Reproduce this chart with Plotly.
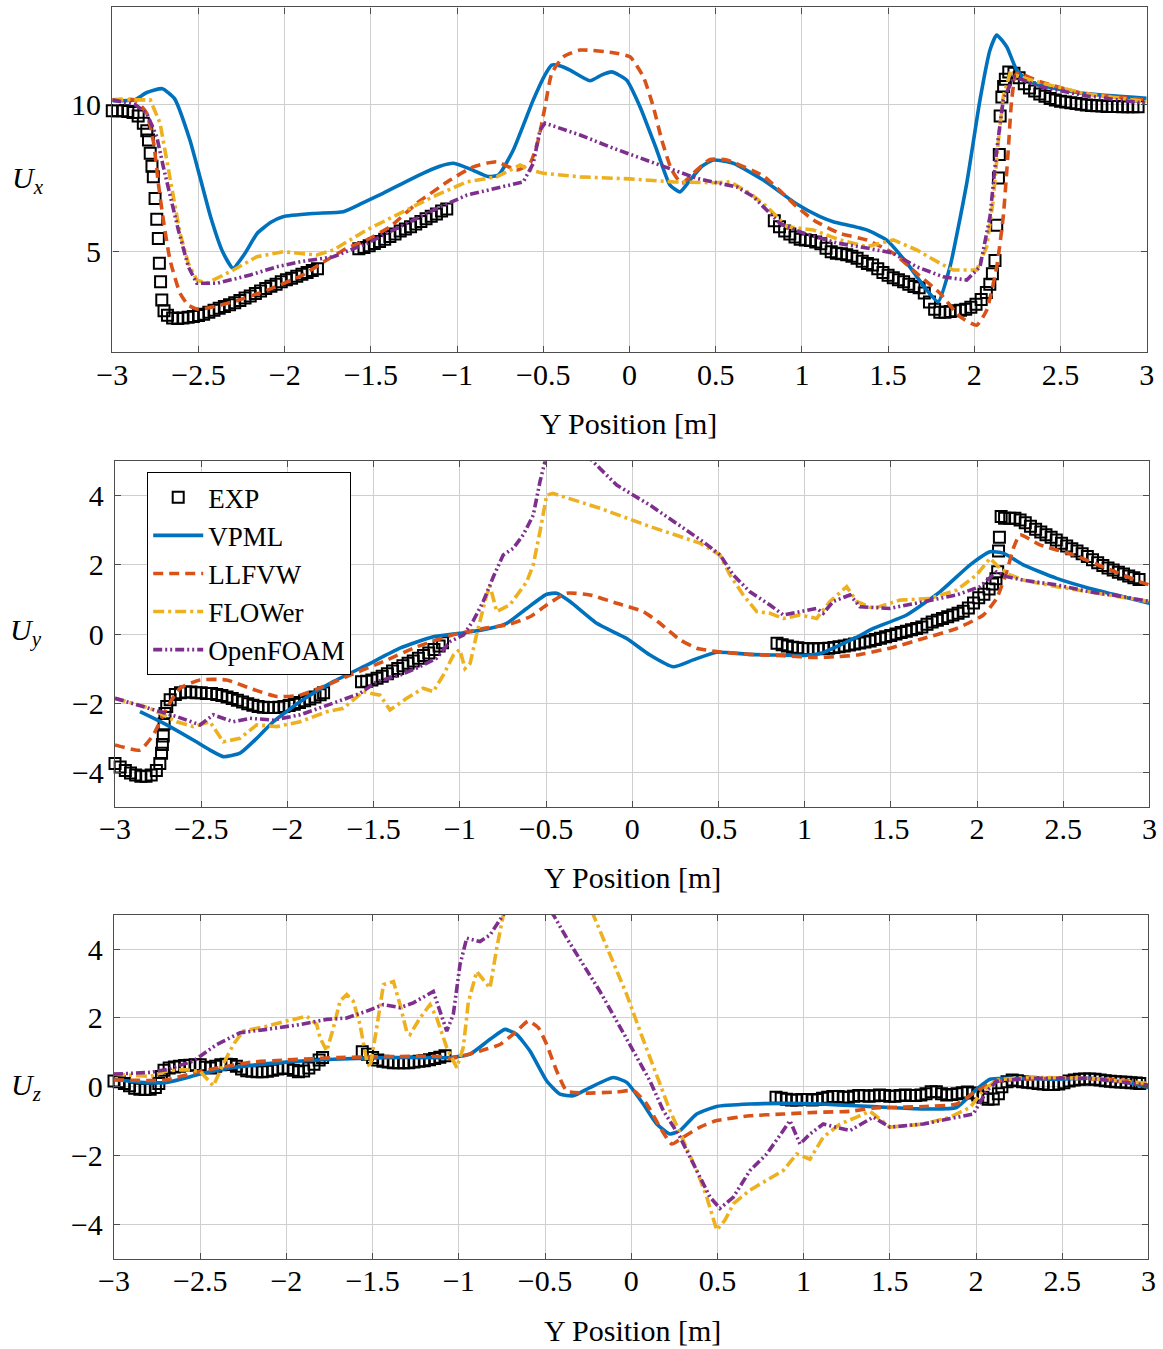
import plotly.graph_objects as go

# ---------------- data ----------------
x_ticks = [-3, -2.5, -2, -1.5, -1, -0.5, 0, 0.5, 1, 1.5, 2, 2.5, 3]
ux_ticks = [5, 10]
uyz_ticks = [-4, -2, 0, 2, 4]

# ---- U_x ----
exp_ux = [(-3.0, 9.78), (-2.97, 9.78), (-2.94, 9.78), (-2.91, 9.76), (-2.88, 9.72), (-2.85, 9.6), (-2.82, 9.36), (-2.80, 9.1),
          (-2.79, 8.79), (-2.78, 8.34), (-2.77, 7.9), (-2.762, 7.54), (-2.752, 6.81), (-2.742, 6.1), (-2.733, 5.45), (-2.727, 4.61),
          (-2.72, 3.98), (-2.713, 3.36), (-2.70, 3.0), (-2.68, 2.85), (-2.65, 2.75), (-2.62, 2.74), (-2.59, 2.75), (-2.56, 2.78),
          (-2.53, 2.8), (-2.50, 2.84), (-2.47, 2.88), (-2.44, 2.95), (-2.41, 3.02), (-2.38, 3.08), (-2.35, 3.14), (-2.32, 3.2),
          (-2.29, 3.27), (-2.26, 3.35), (-2.23, 3.43), (-2.20, 3.5), (-2.17, 3.58), (-2.14, 3.67), (-2.11, 3.75), (-2.08, 3.83),
          (-2.05, 3.9), (-2.02, 3.98), (-1.99, 4.05), (-1.96, 4.1), (-1.93, 4.17), (-1.90, 4.24), (-1.87, 4.3), (-1.84, 4.36),
          (-1.81, 4.42),
          (-1.57, 5.1), (-1.54, 5.14), (-1.51, 5.2), (-1.48, 5.28), (-1.45, 5.35), (-1.42, 5.42), (-1.39, 5.52), (-1.36, 5.6),
          (-1.33, 5.7), (-1.30, 5.77), (-1.27, 5.85), (-1.24, 5.94), (-1.21, 6.03), (-1.18, 6.12), (-1.15, 6.2), (-1.12, 6.28),
          (-1.09, 6.38), (-1.06, 6.45),
          (0.84, 6.05), (0.87, 5.85), (0.90, 5.7), (0.93, 5.6), (0.96, 5.5), (0.99, 5.42), (1.02, 5.4), (1.05, 5.38), (1.08, 5.33),
          (1.11, 5.27), (1.14, 5.12), (1.17, 5.0), (1.20, 4.95), (1.23, 4.93), (1.26, 4.9), (1.29, 4.85), (1.32, 4.78), (1.35, 4.68),
          (1.38, 4.6), (1.41, 4.55), (1.44, 4.42), (1.47, 4.3), (1.50, 4.2), (1.53, 4.12), (1.56, 4.05), (1.59, 3.98), (1.62, 3.9),
          (1.65, 3.82), (1.68, 3.78), (1.71, 3.6), (1.74, 3.3), (1.77, 3.05), (1.80, 2.95), (1.83, 2.95), (1.86, 2.97), (1.89, 3.0),
          (1.92, 3.02), (1.95, 3.05), (1.98, 3.12), (2.01, 3.22), (2.04, 3.38), (2.07, 3.62), (2.09, 3.9), (2.105, 4.25), (2.12, 4.7),
          (2.13, 5.9), (2.14, 7.5), (2.145, 8.3), (2.15, 9.6), (2.16, 10.25), (2.17, 10.6), (2.18, 10.85), (2.20, 11.1), (2.23, 11.05),
          (2.26, 10.9), (2.29, 10.7), (2.32, 10.55), (2.35, 10.45), (2.38, 10.35), (2.41, 10.27), (2.44, 10.2), (2.47, 10.15),
          (2.50, 10.1), (2.53, 10.08), (2.56, 10.05), (2.59, 10.03), (2.62, 10.0), (2.65, 9.98), (2.68, 9.96), (2.71, 9.95),
          (2.74, 9.94), (2.77, 9.93), (2.80, 9.93), (2.83, 9.93), (2.86, 9.92), (2.89, 9.92), (2.92, 9.92), (2.95, 9.92)]

vpml_ux = [(-3.0, 10.12), (-2.87, 10.15), (-2.80, 10.4), (-2.71, 10.53), (-2.64, 10.2), (-2.55, 8.79), (-2.49, 7.5), (-2.43, 6.19),
           (-2.36, 5.0), (-2.30, 4.44), (-2.23, 4.95), (-2.16, 5.62), (-2.08, 6.0), (-2.01, 6.19), (-1.83, 6.30), (-1.66, 6.36),
           (-1.55, 6.65), (-1.43, 6.98), (-1.22, 7.60), (-1.10, 7.9), (-1.02, 8.0), (-0.91, 7.77), (-0.82, 7.55), (-0.76, 7.60),
           (-0.674, 8.45), (-0.558, 10.15), (-0.49, 11.0), (-0.451, 11.33), (-0.40, 11.3), (-0.345, 11.16), (-0.229, 10.8),
           (-0.16, 11.0), (-0.103, 11.1), (-0.016, 10.82), (0.061, 9.92), (0.158, 8.45), (0.235, 7.26), (0.293, 7.03), (0.351, 7.43),
           (0.42, 7.9), (0.486, 8.11), (0.602, 8.0), (0.776, 7.43), (0.97, 6.62), (1.105, 6.19), (1.182, 6.02), (1.376, 5.74),
           (1.49, 5.40), (1.61, 4.61), (1.724, 3.70), (1.79, 3.30), (1.859, 4.49), (1.956, 7.32), (2.033, 10.15), (2.091, 11.84),
           (2.13, 12.35), (2.188, 11.95), (2.246, 11.16), (2.30, 10.85), (2.381, 10.65), (2.632, 10.37), (3.0, 10.20)]

llfvw_ux = [(-3.0, 10.15), (-2.87, 10.15), (-2.80, 9.69), (-2.76, 8.68), (-2.733, 7.32), (-2.704, 6.08), (-2.665, 4.72), (-2.607, 3.59),
            (-2.559, 3.19), (-2.50, 3.05), (-2.30, 3.3), (-2.10, 3.7), (-1.90, 4.2), (-1.756, 4.72), (-1.64, 5.12), (-1.524, 5.40),
            (-1.389, 5.85), (-1.234, 6.64), (-1.041, 7.43), (-0.906, 7.88), (-0.77, 8.05), (-0.654, 7.77), (-0.577, 8.0), (-0.529, 8.79),
            (-0.49, 9.92), (-0.451, 11.05), (-0.384, 11.61), (-0.287, 11.84), (-0.094, 11.75), (0.003, 11.61), (0.08, 10.94),
            (0.138, 9.92), (0.187, 8.79), (0.245, 7.77), (0.303, 7.32), (0.37, 7.66), (0.467, 8.13), (0.564, 8.11), (0.776, 7.57),
            (0.97, 6.53), (1.066, 6.08), (1.221, 5.62), (1.376, 5.40), (1.53, 4.95), (1.666, 4.27), (1.801, 3.59), (1.917, 2.80),
            (2.014, 2.51), (2.072, 3.02), (2.13, 4.49), (2.168, 6.19), (2.197, 8.45), (2.217, 10.15), (2.246, 11.05), (2.381, 10.77),
            (2.632, 10.37), (3.0, 10.15)]

flower_ux = [(-3.0, 10.15), (-2.78, 10.15), (-2.723, 9.36), (-2.685, 8.11), (-2.646, 6.87), (-2.607, 5.62), (-2.559, 4.61), (-2.51, 4.04),
             (-2.452, 3.93), (-2.298, 4.38), (-2.162, 4.83), (-2.008, 5.0), (-1.814, 4.89), (-1.718, 5.06), (-1.524, 5.74), (-1.331, 6.30),
             (-1.138, 6.87), (-0.944, 7.37), (-0.77, 7.54), (-0.635, 7.94), (-0.577, 7.77), (-0.5, 7.66), (-0.287, 7.54), (0.003, 7.47),
             (0.254, 7.37), (0.486, 7.34), (0.583, 7.37), (0.699, 6.98), (0.796, 6.53), (0.912, 5.85), (1.066, 5.74), (1.221, 5.40),
             (1.376, 5.17), (1.53, 5.40), (1.666, 5.06), (1.801, 4.61), (1.878, 4.38), (2.014, 4.38), (2.072, 5.17), (2.11, 6.75),
             (2.14, 8.79), (2.168, 10.26), (2.207, 11.05), (2.34, 10.8), (2.632, 10.37), (3.0, 10.09)]

openfoam_ux = [(-3.0, 10.15), (-2.87, 10.0), (-2.80, 9.69), (-2.742, 8.9), (-2.704, 7.88), (-2.665, 6.87), (-2.617, 5.74), (-2.559, 4.49),
               (-2.51, 3.93), (-2.394, 3.93), (-2.201, 4.21), (-2.046, 4.49), (-1.911, 4.66), (-1.718, 4.83), (-1.524, 5.28),
               (-1.331, 5.85), (-1.138, 6.41), (-0.944, 6.92), (-0.77, 7.15), (-0.616, 7.37), (-0.558, 8.0), (-0.519, 9.13),
               (-0.49, 9.36), (-0.287, 8.96), (-0.094, 8.51), (0.1, 8.11), (0.254, 7.77), (0.39, 7.49), (0.505, 7.34), (0.622, 7.20),
               (0.718, 6.87), (0.796, 6.41), (0.873, 5.96), (1.0, 5.65), (1.2, 5.3), (1.4, 5.1), (1.53, 4.95), (1.666, 4.49),
               (1.82, 4.15), (1.956, 4.04), (2.033, 4.49), (2.091, 6.19), (2.13, 8.45), (2.168, 10.15), (2.23, 10.94), (2.381, 10.6),
               (2.632, 10.3), (3.0, 10.03)]

# ---- U_y ----
exp_uy = [(-3.0, -3.75), (-2.97, -3.85), (-2.94, -3.95), (-2.91, -4.02), (-2.88, -4.08), (-2.85, -4.12), (-2.82, -4.12), (-2.79, -4.08),
          (-2.76, -3.95), (-2.74, -3.75), (-2.73, -3.45), (-2.725, -3.2), (-2.72, -2.95), (-2.715, -2.6), (-2.71, -2.3), (-2.70, -2.1),
          (-2.68, -1.9), (-2.65, -1.75), (-2.62, -1.7), (-2.59, -1.68), (-2.56, -1.68), (-2.53, -1.7), (-2.50, -1.7), (-2.47, -1.72),
          (-2.44, -1.72), (-2.41, -1.75), (-2.38, -1.78), (-2.35, -1.82), (-2.32, -1.87), (-2.29, -1.92), (-2.26, -1.97), (-2.23, -2.02),
          (-2.20, -2.06), (-2.17, -2.1), (-2.14, -2.12), (-2.11, -2.13), (-2.08, -2.13), (-2.05, -2.12), (-2.02, -2.1), (-1.99, -2.07),
          (-1.96, -2.03), (-1.93, -1.98), (-1.90, -1.93), (-1.87, -1.88), (-1.84, -1.82), (-1.81, -1.76), (-1.79, -1.7),
          (-1.57, -1.38), (-1.54, -1.37), (-1.51, -1.33), (-1.48, -1.28), (-1.45, -1.22), (-1.42, -1.15), (-1.39, -1.07), (-1.36, -1.0),
          (-1.33, -0.92), (-1.30, -0.85), (-1.27, -0.78), (-1.24, -0.7), (-1.21, -0.62), (-1.18, -0.55), (-1.15, -0.45), (-1.12, -0.35),
          (-1.10, -0.25),
          (0.84, -0.27), (0.87, -0.31), (0.90, -0.35), (0.93, -0.38), (0.96, -0.4), (0.99, -0.42), (1.02, -0.43), (1.05, -0.43),
          (1.08, -0.43), (1.11, -0.42), (1.14, -0.41), (1.17, -0.39), (1.20, -0.37), (1.23, -0.35), (1.26, -0.32), (1.29, -0.29),
          (1.32, -0.26), (1.35, -0.23), (1.38, -0.2), (1.41, -0.16), (1.44, -0.12), (1.47, -0.08), (1.50, -0.04), (1.53, 0.0),
          (1.56, 0.04), (1.59, 0.08), (1.62, 0.12), (1.65, 0.16), (1.68, 0.2), (1.71, 0.28), (1.74, 0.35), (1.77, 0.4), (1.80, 0.45),
          (1.83, 0.5), (1.86, 0.55), (1.89, 0.6), (1.92, 0.66), (1.95, 0.75), (1.98, 0.9), (2.01, 1.05), (2.04, 1.15), (2.07, 1.3),
          (2.09, 1.45), (2.11, 1.6), (2.12, 1.8), (2.125, 2.4), (2.13, 2.8), (2.14, 3.4), (2.16, 3.35), (2.19, 3.35), (2.22, 3.35),
          (2.25, 3.3), (2.28, 3.22), (2.31, 3.12), (2.34, 3.03), (2.37, 2.95), (2.40, 2.87), (2.43, 2.8), (2.46, 2.72), (2.49, 2.63),
          (2.52, 2.55), (2.55, 2.47), (2.58, 2.4), (2.61, 2.32), (2.64, 2.24), (2.67, 2.15), (2.70, 2.06), (2.73, 1.98), (2.76, 1.91),
          (2.79, 1.85), (2.82, 1.79), (2.85, 1.74), (2.88, 1.68), (2.91, 1.63), (2.94, 1.58)]

vpml_uy = [(-2.855, -2.25), (-2.70, -2.63), (-2.546, -3.07), (-2.449, -3.36), (-2.372, -3.55), (-2.275, -3.45), (-2.178, -3.02),
           (-2.082, -2.54), (-1.927, -1.96), (-1.734, -1.38), (-1.54, -0.90), (-1.347, -0.41), (-1.154, -0.08), (-1.0, 0.02),
           (-0.864, 0.12), (-0.728, 0.31), (-0.612, 0.74), (-0.496, 1.15), (-0.438, 1.18), (-0.361, 0.94), (-0.206, 0.31),
           (-0.032, -0.13), (0.103, -0.61), (0.238, -0.95), (0.354, -0.75), (0.49, -0.53), (0.683, -0.59), (0.877, -0.61),
           (1.0, -0.62), (1.1, -0.55), (1.205, -0.32), (1.3, -0.1), (1.398, 0.16), (1.592, 0.55), (1.785, 1.22), (1.96, 2.0),
           (2.075, 2.38), (2.153, 2.34), (2.269, 2.0), (2.462, 1.61), (2.655, 1.32), (2.849, 1.08), (3.0, 0.89)]

llfvw_uy = [(-3.0, -3.21), (-2.855, -3.36), (-2.778, -2.92), (-2.70, -2.15), (-2.623, -1.57), (-2.507, -1.33), (-2.353, -1.33),
            (-2.217, -1.57), (-2.062, -1.81), (-1.927, -1.77), (-1.772, -1.48), (-1.637, -1.19), (-1.444, -0.80), (-1.25, -0.37),
            (-1.057, -0.05), (-0.864, 0.16), (-0.728, 0.26), (-0.593, 0.50), (-0.496, 0.84), (-0.38, 1.18), (-0.245, 1.13),
            (-0.09, 0.89), (0.064, 0.65), (0.161, 0.31), (0.277, -0.17), (0.374, -0.41), (0.49, -0.51), (0.683, -0.59),
            (0.877, -0.63), (1.07, -0.68), (1.2, -0.65), (1.302, -0.61), (1.495, -0.41), (1.689, -0.13), (1.882, 0.16),
            (2.037, 0.55), (2.114, 1.03), (2.172, 1.80), (2.211, 2.48), (2.249, 2.87), (2.365, 2.58), (2.559, 2.29),
            (2.752, 1.90), (2.946, 1.51), (3.0, 1.42)]

flower_uy = [(-3.0, -1.86), (-2.797, -2.15), (-2.642, -2.54), (-2.546, -2.68), (-2.449, -2.54), (-2.372, -3.12), (-2.275, -3.02),
             (-2.178, -2.63), (-2.062, -2.68), (-1.927, -2.54), (-1.772, -2.25), (-1.676, -2.15), (-1.56, -1.67), (-1.463, -1.77),
             (-1.405, -2.20), (-1.308, -1.86), (-1.212, -1.57), (-1.154, -1.67), (-1.096, -1.19), (-1.037, -0.61), (-1.0, -0.45),
             (-0.97, -1.0), (-0.94, -0.85), (-0.902, 0.0), (-0.844, 1.13), (-0.825, 1.4), (-0.786, 0.65), (-0.71, 0.84),
             (-0.612, 1.51), (-0.574, 2.0), (-0.535, 2.96), (-0.496, 4.02), (-0.46, 4.07), (-0.187, 3.64), (0.103, 3.11),
             (0.393, 2.63), (0.509, 2.29), (0.567, 1.71), (0.644, 1.13), (0.722, 0.65), (0.799, 0.60), (0.877, 0.45), (0.973, 0.55),
             (1.07, 0.45), (1.147, 0.94), (1.244, 1.37), (1.302, 0.94), (1.398, 0.74), (1.553, 0.98), (1.727, 1.03), (1.882, 1.27),
             (1.998, 1.71), (2.075, 2.19), (2.133, 1.9), (2.191, 1.71), (2.269, 1.56), (2.462, 1.37), (2.655, 1.22), (2.849, 1.06),
             (3.0, 0.94)]

openfoam_uy = [(-3.0, -1.86), (-2.797, -2.15), (-2.642, -2.39), (-2.507, -2.63), (-2.43, -2.34), (-2.314, -2.54), (-2.217, -2.44),
               (-2.082, -2.49), (-1.927, -2.34), (-1.734, -2.0), (-1.579, -1.72), (-1.482, -1.38), (-1.347, -1.19), (-1.25, -0.99),
               (-1.134, -0.70), (-1.057, -0.22), (-0.979, -0.03), (-0.92, 0.40), (-0.864, 0.94), (-0.806, 1.65), (-0.748, 2.29),
               (-0.69, 2.48), (-0.632, 2.87), (-0.574, 3.44), (-0.535, 4.41), (-0.506, 4.99), (-0.45, 5.8), (-0.35, 5.6),
               (-0.23, 5.0), (-0.09, 4.31), (0.103, 3.73), (0.296, 3.06), (0.412, 2.67), (0.509, 2.29), (0.586, 1.71), (0.683, 1.22),
               (0.799, 0.84), (0.877, 0.55), (0.993, 0.65), (1.07, 0.74), (1.108, 0.6), (1.166, 0.94), (1.263, 1.13), (1.321, 0.79),
               (1.495, 0.74), (1.689, 0.94), (1.882, 1.13), (2.017, 1.37), (2.075, 1.61), (2.114, 1.80), (2.172, 1.66), (2.269, 1.56),
               (2.462, 1.42), (2.655, 1.22), (2.849, 1.08), (3.0, 0.94)]

# ---- U_z ----
exp_uz = [(-3.0, 0.17), (-2.97, 0.15), (-2.94, 0.1), (-2.91, 0.03), (-2.88, -0.04), (-2.85, -0.07), (-2.82, -0.08), (-2.79, -0.07),
          (-2.76, -0.02), (-2.74, 0.1), (-2.725, 0.3), (-2.71, 0.48), (-2.68, 0.55), (-2.65, 0.58), (-2.62, 0.6), (-2.59, 0.62),
          (-2.56, 0.63), (-2.53, 0.64), (-2.50, 0.64), (-2.47, 0.57), (-2.44, 0.55), (-2.41, 0.6), (-2.38, 0.64), (-2.35, 0.66),
          (-2.32, 0.65), (-2.29, 0.6), (-2.26, 0.52), (-2.23, 0.47), (-2.20, 0.45), (-2.17, 0.44), (-2.14, 0.44), (-2.11, 0.45),
          (-2.08, 0.48), (-2.05, 0.52), (-2.02, 0.55), (-1.99, 0.53), (-1.96, 0.48), (-1.93, 0.44), (-1.90, 0.46), (-1.87, 0.55),
          (-1.84, 0.66), (-1.81, 0.78), (-1.79, 0.85),
          (-1.56, 1.02), (-1.53, 0.95), (-1.50, 0.85), (-1.47, 0.78), (-1.44, 0.74), (-1.41, 0.72), (-1.38, 0.7), (-1.35, 0.7),
          (-1.32, 0.7), (-1.29, 0.7), (-1.26, 0.72), (-1.23, 0.74), (-1.20, 0.76), (-1.17, 0.79), (-1.14, 0.82), (-1.11, 0.86),
          (-1.08, 0.9),
          (0.84, -0.3), (0.87, -0.33), (0.90, -0.36), (0.93, -0.38), (0.96, -0.38), (0.99, -0.37), (1.02, -0.37), (1.05, -0.38),
          (1.08, -0.37), (1.11, -0.33), (1.14, -0.3), (1.17, -0.28), (1.20, -0.28), (1.23, -0.3), (1.26, -0.3), (1.29, -0.27),
          (1.32, -0.25), (1.35, -0.26), (1.38, -0.27), (1.41, -0.26), (1.44, -0.24), (1.47, -0.25), (1.50, -0.27), (1.53, -0.27),
          (1.56, -0.25), (1.59, -0.24), (1.62, -0.25), (1.65, -0.25), (1.68, -0.24), (1.71, -0.2), (1.74, -0.14), (1.77, -0.14),
          (1.80, -0.2), (1.83, -0.24), (1.86, -0.22), (1.89, -0.2), (1.92, -0.17), (1.95, -0.15), (1.98, -0.18), (2.01, -0.24),
          (2.04, -0.3), (2.07, -0.36), (2.10, -0.35), (2.13, -0.2), (2.15, 0.0), (2.18, 0.15), (2.21, 0.2), (2.24, 0.18),
          (2.27, 0.15), (2.30, 0.13), (2.33, 0.12), (2.36, 0.1), (2.39, 0.08), (2.42, 0.07), (2.45, 0.07), (2.48, 0.08),
          (2.51, 0.12), (2.54, 0.17), (2.57, 0.2), (2.60, 0.22), (2.63, 0.23), (2.66, 0.23), (2.69, 0.22), (2.72, 0.2),
          (2.75, 0.18), (2.78, 0.16), (2.81, 0.15), (2.84, 0.14), (2.87, 0.13), (2.90, 0.12), (2.93, 0.11), (2.95, 0.1)]

vpml_uz = [(-3.0, 0.22), (-2.85, 0.13), (-2.694, 0.13), (-2.5, 0.37), (-2.308, 0.56), (-2.018, 0.71), (-1.728, 0.80), (-1.438, 0.85),
           (-1.148, 0.85), (-1.05, 0.85), (-0.935, 0.95), (-0.819, 1.38), (-0.732, 1.67), (-0.664, 1.52), (-0.587, 1.04),
           (-0.49, 0.17), (-0.413, -0.21), (-0.336, -0.26), (-0.239, -0.02), (-0.104, 0.27), (-0.026, 0.13), (0.07, -0.50),
           (0.148, -1.08), (0.225, -1.37), (0.283, -1.27), (0.38, -0.79), (0.496, -0.57), (0.689, -0.50), (0.882, -0.48),
           (1.1, -0.5), (1.3, -0.55), (1.501, -0.60), (1.694, -0.64), (1.887, -0.60), (2.004, -0.07), (2.081, 0.22),
           (2.178, 0.25), (2.468, 0.22), (2.66, 0.25), (2.854, 0.16), (3.0, -0.02)]

llfvw_uz = [(-3.0, 0.2), (-2.7, 0.2), (-2.5, 0.45), (-2.2, 0.72), (-2.0, 0.78), (-1.7, 0.85), (-1.4, 0.88), (-1.1, 0.88),
            (-1.051, 0.82), (-0.877, 1.04), (-0.761, 1.23), (-0.664, 1.62), (-0.597, 1.91), (-0.539, 1.72), (-0.49, 1.23),
            (-0.432, 0.46), (-0.374, -0.12), (-0.278, -0.18), (-0.084, -0.15), (0.012, -0.11), (0.09, -0.5), (0.167, -1.17),
            (0.235, -1.66), (0.302, -1.46), (0.399, -1.17), (0.496, -0.98), (0.689, -0.84), (0.882, -0.79), (1.076, -0.74),
            (1.269, -0.71), (1.4, -0.62), (1.7, -0.57), (1.887, -0.5), (2.004, -0.12), (2.12, 0.16), (2.46, 0.25), (2.85, 0.2),
            (3.0, 0.05)]

flower_uz = [(-3.0, 0.37), (-2.888, 0.32), (-2.79, 0.3), (-2.694, 0.46), (-2.6, 0.5), (-2.5, 0.45), (-2.424, 0.03), (-2.366, 0.66),
             (-2.308, 1.23), (-2.25, 1.62), (-2.114, 1.76), (-2.0, 1.91), (-1.882, 2.05), (-1.824, 1.81), (-1.805, 1.43),
             (-1.766, 1.04), (-1.728, 1.7), (-1.689, 2.49), (-1.65, 2.68), (-1.612, 2.49), (-1.573, 1.81), (-1.534, 0.75),
             (-1.515, 0.56), (-1.476, 1.72), (-1.437, 2.97), (-1.379, 3.06), (-1.341, 2.39), (-1.302, 1.6), (-1.283, 1.52),
             (-1.225, 2.0), (-1.167, 2.39), (-1.128, 2.0), (-1.07, 1.14), (-1.012, 0.56), (-0.974, 1.14), (-0.945, 2.45),
             (-0.896, 3.35), (-0.819, 2.87), (-0.78, 4.03), (-0.742, 4.99), (-0.6, 6.0), (-0.4, 6.2), (-0.22, 5.0), (-0.123, 3.84),
             (-0.026, 2.68), (0.051, 1.62), (0.148, 0.37), (0.225, -0.69), (0.302, -1.56), (0.38, -2.43), (0.438, -3.2),
             (0.496, -4.16), (0.544, -3.87), (0.593, -3.39), (0.689, -3.0), (0.786, -2.72), (0.882, -2.43), (0.96, -1.95),
             (1.037, -2.1), (1.114, -1.46), (1.211, -1.08), (1.308, -0.88), (1.385, -0.71), (1.501, -1.17), (1.694, -1.08),
             (1.849, -0.88), (1.965, -0.6), (2.04, -0.12), (2.12, 0.2), (2.3, 0.28), (2.65, 0.25), (3.0, 0.1)]

openfoam_uz = [(-3.0, 0.37), (-2.791, 0.42), (-2.694, 0.5), (-2.54, 0.75), (-2.404, 1.23), (-2.269, 1.57), (-2.114, 1.67),
               (-1.921, 1.81), (-1.766, 1.96), (-1.65, 2.0), (-1.534, 2.2), (-1.437, 2.39), (-1.341, 2.3), (-1.264, 2.44),
               (-1.148, 2.77), (-1.109, 2.2), (-1.07, 1.62), (-1.032, 2.1), (-0.993, 3.55), (-0.954, 4.32), (-0.877, 4.22),
               (-0.819, 4.41), (-0.742, 5.0), (-0.6, 5.8), (-0.452, 5.0), (-0.374, 4.32), (-0.278, 3.55), (-0.181, 2.77),
               (-0.084, 1.91), (0.012, 1.04), (0.109, 0.17), (0.186, -0.69), (0.283, -1.46), (0.38, -2.43), (0.457, -3.2),
               (0.515, -3.53), (0.593, -3.2), (0.689, -2.43), (0.786, -1.95), (0.882, -1.27), (0.921, -0.98), (0.979, -1.66),
               (1.037, -1.37), (1.114, -1.08), (1.269, -1.27), (1.404, -0.88), (1.501, -1.17), (1.694, -1.08), (1.887, -0.88),
               (1.984, -0.79), (2.062, -0.12), (2.12, 0.16), (2.3, 0.25), (2.65, 0.25), (3.0, 0.05)]

series_names = ["EXP", "VPML", "LLFVW", "FLOWer", "OpenFOAM"]
panels = [
    dict(exp=exp_ux, vpml=vpml_ux, llfvw=llfvw_ux, flower=flower_ux, openfoam=openfoam_ux),
    dict(exp=exp_uy, vpml=vpml_uy, llfvw=llfvw_uy, flower=flower_uy, openfoam=openfoam_uy),
    dict(exp=exp_uz, vpml=vpml_uz, llfvw=llfvw_uz, flower=flower_uz, openfoam=openfoam_uz),
]
y_labels = ["<i>U</i><sub><i>x</i></sub>", "<i>U</i><sub><i>y</i></sub>", "<i>U</i><sub><i>z</i></sub>"]

# ---------------- styling ----------------
W, H = 1163, 1349
FONT = "Liberation Serif, Times New Roman, serif"
FS = 30
LEG_FS = 27
C_BLUE, C_RED, C_YEL, C_PUR = "#0072BD", "#D95319", "#EDB120", "#7E2F8E"
LW = 3.6
styles = {
    "vpml": dict(color=C_BLUE, width=LW, dash="solid", shape="spline", smoothing=0.5),
    "llfvw": dict(color=C_RED, width=LW, dash="10px,6px", shape="spline", smoothing=0.5),
    "flower": dict(color=C_YEL, width=LW, dash="11px,4px,3px,4px"),
    "openfoam": dict(color=C_PUR, width=LW, dash="9px,3px,2px,3px,2px,3px"),
}
# panel boxes in pixels: (left, right, top, bottom)
boxes = [(112.3, 1146.7, 7.3, 352.3), (115.0, 1149.4, 461.25, 806.75), (114.0, 1148.4, 914.7, 1259.0)]
yranges = [[1.59, 13.29], [-5, 5], [-5, 5]]
ytickvals = [ux_ticks, uyz_ticks, uyz_ticks]
xlabel_pos = [(629, 423), (632, 877), (632, 1330)]
ylabel_pos = [(28, 180), (26, 632), (26, 1087)]

fig = go.Figure()
layout = dict(width=W, height=H, autosize=False, margin=dict(l=0, r=0, t=0, b=0, pad=0), paper_bgcolor="white",
              plot_bgcolor="white", font=dict(family=FONT, size=FS, color="black"), showlegend=True, annotations=[])

for i, p in enumerate(panels):
    sfx = "" if i == 0 else str(i + 1)
    xa, ya = "x" + sfx, "y" + sfx
    first = (i == 1)
    ex = [pt[0] for pt in p["exp"]]
    ey = [pt[1] for pt in p["exp"]]
    fig.add_trace(go.Scatter(x=ex, y=ey, mode="markers", name="EXP", xaxis=xa, yaxis=ya, showlegend=first,
                             cliponaxis=False, legendrank=1,
                             marker=dict(symbol="square-open", size=11, color="black", line=dict(width=2, color="black"))))
    for rank, key in enumerate(["vpml", "llfvw", "flower", "openfoam"], start=2):
        pts = p[key]
        fig.add_trace(go.Scatter(x=[q[0] for q in pts], y=[q[1] for q in pts], mode="lines", name=series_names[rank - 1],
                                 xaxis=xa, yaxis=ya, showlegend=first, legendrank=rank, line=styles[key]))
    l, r, t, b = boxes[i]
    common = dict(showline=True, linecolor="#4d4d4d", linewidth=1.4, mirror="ticks", ticks="inside", ticklen=6,
                  tickcolor="#4d4d4d", tickwidth=1.2, showgrid=True, gridcolor="#cfcfcf", gridwidth=1.4, zeroline=False,
                  automargin=False, tickfont=dict(family=FONT, size=FS, color="black"))
    layout["xaxis" + sfx] = dict(domain=[l / W, r / W], anchor=ya, range=[-3, 3], tickmode="array", tickvals=x_ticks,
                                 ticklabelstandoff=-5, **common)
    layout["yaxis" + sfx] = dict(domain=[1 - b / H, 1 - t / H], anchor=xa, range=yranges[i], tickmode="array",
                                 tickvals=ytickvals[i], ticklabelstandoff=4, **common)
    xl, yl = xlabel_pos[i]
    layout["annotations"].append(dict(text="Y Position [m]", x=xl / W, y=1 - yl / H, xref="paper", yref="paper",
                                      showarrow=False, xanchor="center", yanchor="middle",
                                      font=dict(family=FONT, size=FS, color="black")))
    xl, yl = ylabel_pos[i]
    layout["annotations"].append(dict(text=y_labels[i], x=xl / W, y=1 - yl / H, xref="paper", yref="paper",
                                      showarrow=False, xanchor="center", yanchor="middle",
                                      font=dict(family=FONT, size=FS, color="black")))

layout["legend"] = dict(x=147 / W, y=1 - 472 / H, xanchor="left", yanchor="top", bgcolor="white", bordercolor="black",
                        borderwidth=1.2, font=dict(family=FONT, size=LEG_FS, color="black"), tracegroupgap=0,
                        itemwidth=50, entrywidth=190)
fig.update_layout(**layout)
fig.write_html("out.html", config={"displayModeBar": False},
               post_script="document.body.style.margin='0px';document.body.style.overflow='hidden';")
